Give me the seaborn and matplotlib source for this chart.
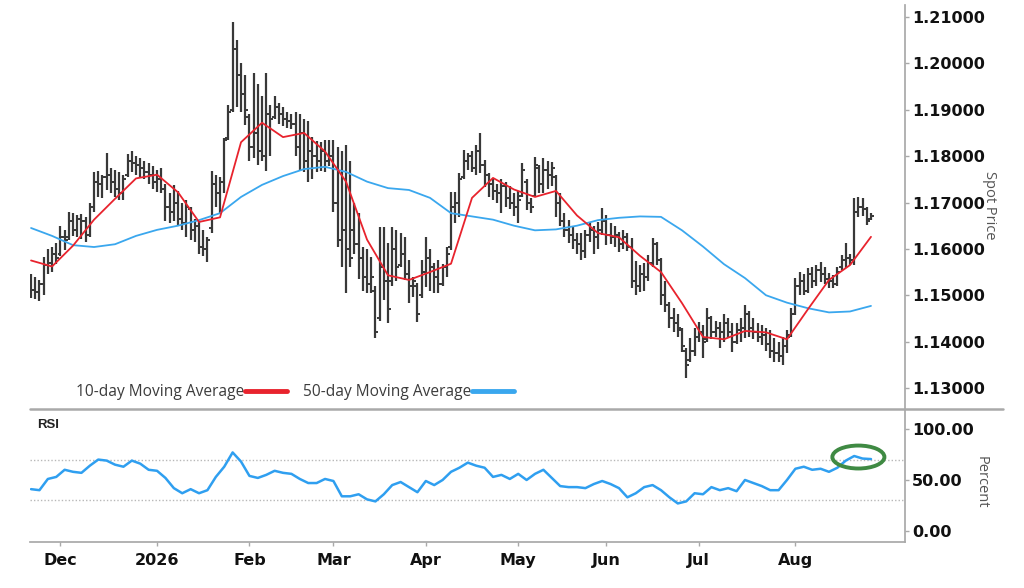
import numpy as np
import pandas as pd
import matplotlib
matplotlib.use("Agg")
import matplotlib.pyplot as plt
from matplotlib.lines import Line2D
from matplotlib.patches import Ellipse
import seaborn as sns

# Daily OHLC, in pips above 1.0000 (1545 -> 1.1545), first bar on 2025-11-20
opens = [1520, 1512, 1508, 1525, 1565, 1570, 1590, 1590, 1625, 1625,
         1660, 1640, 1665, 1660, 1630, 1690, 1745, 1740, 1755, 1760,
         1745, 1730, 1720, 1760, 1790, 1785, 1780, 1775, 1765, 1760,
         1745, 1750, 1730, 1690, 1680, 1700, 1665, 1655, 1685, 1640,
         1650, 1605, 1600, 1645, 1740, 1720, 1745, 1840, 1900, 2030,
         1975, 1935, 1885, 1820, 1850, 1810, 1800, 1890, 1885, 1905,
         1890, 1880, 1875, 1870, 1820, 1850, 1790, 1810, 1800, 1790,
         1810, 1790, 1800, 1700, 1620, 1640, 1600, 1640, 1610, 1580,
         1540, 1525, 1510, 1450, 1560, 1530, 1530, 1600, 1565, 1590,
         1545, 1520, 1520, 1500, 1550, 1580, 1560, 1540, 1525, 1560,
         1605, 1690, 1700, 1755, 1790, 1800, 1775, 1810, 1780, 1760,
         1740, 1725, 1720, 1735, 1710, 1700, 1690, 1715, 1745, 1700,
         1715, 1775, 1740, 1770, 1760, 1755, 1700, 1660, 1640, 1630,
         1620, 1610, 1595, 1630, 1640, 1625, 1640, 1660, 1630, 1625,
         1630, 1610, 1625, 1605, 1530, 1520, 1545, 1540, 1570, 1610,
         1575, 1500, 1480, 1450, 1440, 1425, 1380, 1360, 1380, 1410,
         1420, 1405, 1450, 1420, 1430, 1420, 1440, 1420, 1400, 1425,
         1430, 1460, 1430, 1420, 1410, 1415, 1395, 1380, 1375, 1370,
         1390, 1415, 1460, 1520, 1530, 1510, 1545, 1530, 1555, 1545,
         1535, 1530, 1525, 1560, 1575, 1580, 1575, 1680, 1690, 1685,
         1665]
highs = [1545, 1540, 1532, 1582, 1600, 1605, 1612, 1650, 1640, 1680,
         1678, 1672, 1675, 1668, 1700, 1765, 1768, 1760, 1807, 1775,
         1770, 1765, 1760, 1805, 1810, 1800, 1795, 1790, 1785, 1778,
         1770, 1775, 1740, 1720, 1738, 1725, 1700, 1705, 1690, 1665,
         1660, 1640, 1625, 1768, 1760, 1755, 1840, 1910, 2090, 2050,
         2000, 1975, 1890, 1980, 1955, 1930, 1980, 1910, 1930, 1915,
         1905, 1895, 1890, 1895, 1890, 1880, 1875, 1842, 1832, 1830,
         1835, 1835, 1835, 1820, 1810, 1825, 1790, 1700, 1678, 1605,
         1600, 1583, 1520, 1648, 1648, 1613, 1648, 1640, 1634, 1626,
         1576, 1540, 1526, 1575, 1626, 1600, 1570, 1575, 1568, 1604,
         1723, 1723, 1764, 1813, 1807, 1810, 1824, 1850, 1792, 1764,
         1750, 1740, 1750, 1745, 1735, 1720, 1725, 1785, 1750, 1710,
         1798, 1780, 1796, 1790, 1787, 1760, 1720, 1678, 1662, 1650,
         1634, 1634, 1640, 1658, 1650, 1658, 1688, 1673, 1655, 1650,
         1636, 1640, 1635, 1623, 1573, 1565, 1570, 1587, 1623, 1615,
         1580, 1530, 1486, 1473, 1460, 1430, 1386, 1408, 1430, 1442,
         1436, 1473, 1455, 1445, 1442, 1460, 1451, 1440, 1440, 1450,
         1479, 1465, 1450, 1440, 1436, 1430, 1425, 1408, 1400, 1410,
         1425, 1473, 1537, 1550, 1545, 1558, 1560, 1565, 1572, 1560,
         1548, 1544, 1560, 1587, 1613, 1590, 1710, 1712, 1710, 1690,
         1677]
lows = [1494, 1492, 1488, 1500, 1545, 1550, 1568, 1585, 1598, 1620,
        1628, 1625, 1622, 1615, 1625, 1680, 1712, 1710, 1728, 1720,
        1712, 1705, 1705, 1755, 1765, 1760, 1755, 1750, 1740, 1730,
        1722, 1720, 1660, 1655, 1660, 1650, 1640, 1625, 1620, 1615,
        1590, 1585, 1572, 1635, 1690, 1675, 1720, 1835, 1895, 1905,
        1895, 1867, 1790, 1795, 1780, 1790, 1768, 1800, 1880, 1870,
        1865, 1860, 1858, 1800, 1770, 1765, 1745, 1750, 1765, 1768,
        1765, 1778, 1680, 1605, 1560, 1505, 1560, 1590, 1535, 1510,
        1505, 1505, 1408, 1445, 1490, 1440, 1520, 1530, 1560, 1533,
        1483, 1496, 1442, 1495, 1518, 1510, 1505, 1505, 1520, 1540,
        1598, 1656, 1669, 1750, 1770, 1765, 1760, 1764, 1733, 1712,
        1705, 1699, 1678, 1690, 1685, 1670, 1656, 1712, 1684, 1678,
        1712, 1720, 1720, 1730, 1735, 1669, 1650, 1626, 1613, 1600,
        1590, 1576, 1580, 1615, 1590, 1600, 1630, 1608, 1610, 1605,
        1594, 1600, 1595, 1516, 1500, 1507, 1510, 1530, 1560, 1565,
        1479, 1464, 1430, 1420, 1410, 1377, 1322, 1356, 1370, 1400,
        1365, 1400, 1405, 1410, 1386, 1400, 1408, 1378, 1395, 1400,
        1408, 1410, 1405, 1400, 1393, 1380, 1365, 1356, 1355, 1350,
        1375, 1410, 1457, 1500, 1500, 1505, 1516, 1520, 1529, 1525,
        1516, 1516, 1520, 1555, 1559, 1565, 1565, 1668, 1670, 1651,
        1662]
closes = [1512, 1508, 1525, 1565, 1570, 1590, 1580, 1625, 1620, 1660,
          1640, 1665, 1660, 1630, 1690, 1745, 1740, 1755, 1760, 1745,
          1730, 1720, 1750, 1790, 1785, 1780, 1775, 1765, 1760, 1745,
          1750, 1730, 1690, 1680, 1700, 1665, 1655, 1690, 1640, 1650,
          1605, 1600, 1620, 1740, 1720, 1745, 1835, 1895, 2030, 1975,
          1935, 1900, 1820, 1850, 1810, 1800, 1890, 1880, 1905, 1890,
          1880, 1875, 1870, 1820, 1850, 1790, 1810, 1800, 1790, 1810,
          1790, 1800, 1700, 1620, 1640, 1600, 1580, 1610, 1580, 1540,
          1525, 1540, 1420, 1560, 1530, 1470, 1600, 1560, 1590, 1545,
          1520, 1530, 1460, 1550, 1580, 1560, 1540, 1525, 1560, 1590,
          1690, 1700, 1750, 1790, 1800, 1775, 1810, 1780, 1760, 1740,
          1725, 1720, 1735, 1710, 1700, 1690, 1705, 1770, 1700, 1690,
          1780, 1740, 1770, 1760, 1775, 1700, 1660, 1640, 1630, 1620,
          1610, 1595, 1630, 1640, 1625, 1640, 1660, 1630, 1625, 1630,
          1610, 1625, 1605, 1530, 1520, 1545, 1540, 1570, 1610, 1575,
          1500, 1480, 1450, 1440, 1430, 1390, 1350, 1380, 1410, 1420,
          1400, 1450, 1420, 1430, 1420, 1440, 1420, 1400, 1425, 1430,
          1460, 1430, 1420, 1410, 1415, 1395, 1380, 1375, 1370, 1390,
          1410, 1460, 1520, 1530, 1510, 1545, 1530, 1555, 1545, 1535,
          1530, 1525, 1550, 1575, 1580, 1575, 1680, 1690, 1685, 1660,
          1670]

# moving averages read every 5th bar (pips)
ma10_pips = [1575, 1562, 1607, 1663, 1708, 1752, 1760, 1722, 1658, 1668,
             1830, 1872, 1841, 1850, 1810, 1745, 1620, 1543, 1533, 1550,
             1568, 1710, 1753, 1728, 1712, 1725, 1672, 1634, 1625, 1585,
             1550, 1483, 1410, 1405, 1423, 1420, 1405, 1470, 1533, 1565,
             1626]
ma50_pips = [1645, 1628, 1608, 1604, 1610, 1628, 1641, 1650, 1662, 1677,
             1712, 1738, 1757, 1772, 1777, 1766, 1745, 1731, 1727, 1710,
             1677, 1670, 1663, 1650, 1640, 1642, 1650, 1662, 1667, 1670,
             1669, 1640, 1605, 1567, 1537, 1500, 1484, 1472, 1463, 1465,
             1477]
# RSI read every 2nd bar
rsi = [41, 40, 51, 53, 60, 58, 57, 64, 70, 69,
       65, 63, 69, 66, 60, 59, 52, 42, 37, 41,
       37, 40, 53, 63, 77, 68, 54, 52, 55, 59,
       57, 56, 51, 47, 47, 51, 49, 34, 34, 36,
       31, 29, 36, 45, 48, 43, 38, 49, 45, 50,
       58, 62, 67, 64, 62, 53, 55, 51, 56, 50,
       56, 60, 52, 44, 43, 43, 42, 46, 49, 46,
       42, 33, 37, 43, 45, 40, 33, 27, 29, 37,
       36, 43, 40, 42, 39, 50, 47, 44, 40, 40,
       50, 61, 63, 60, 61, 58, 62, 69, 73.5, 71,
       70.5]

start_date = "2025-11-20"
price_ticks = [1.13, 1.14, 1.15, 1.16, 1.17, 1.18, 1.19, 1.20, 1.21]
rsi_ticks = [0, 50, 100]
legend_labels = ["10-day Moving Average", "50-day Moving Average"]

RED = "#e8232d"
BLUE = "#3aa7ee"
BAR = "#383838"
GREY = "#a9a9a9"
TICK_FONT = ["DejaVu Sans"]
LABEL_FONT = ["Open Sans", "DejaVu Sans"]

sns.set_theme(style="white")
plt.rcParams["font.family"] = ["Liberation Sans", "DejaVu Sans"]

n = len(closes)
days = pd.bdate_range(start_date, periods=n)
bars = pd.DataFrame({
    "x": np.arange(n),
    "open": 1 + np.array(opens) / 1e4,
    "high": 1 + np.array(highs) / 1e4,
    "low": 1 + np.array(lows) / 1e4,
    "close": 1 + np.array(closes) / 1e4,
})
ma = pd.DataFrame({
    "x": np.arange(0, n, 5),
    "ma10": 1 + np.array(ma10_pips) / 1e4,
    "ma50": 1 + np.array(ma50_pips) / 1e4,
})
rsi_df = pd.DataFrame({"x": np.arange(0, n, 2), "rsi": rsi})

W, H = 1024, 588
fig = plt.figure(figsize=(W / 100, H / 100), dpi=100)
ax = fig.add_axes([30 / W, 1 - 409 / H, 875 / W, 404 / H])
ax_rsi = fig.add_axes([30 / W, 1 - 542 / H, 875 / W, 132 / H])

# price panel
ax.vlines(bars["x"], bars["low"], bars["high"], color=BAR, lw=1.6, zorder=2)
ax.hlines(bars["open"], bars["x"] - 0.7, bars["x"], color=BAR, lw=1.4, zorder=2)
ax.hlines(bars["close"], bars["x"], bars["x"] + 0.7, color=BAR, lw=1.4, zorder=2)
sns.lineplot(data=ma, x="x", y="ma50", color=BLUE, lw=1.3, ax=ax, zorder=3)
sns.lineplot(data=ma, x="x", y="ma10", color=RED, lw=1.3, ax=ax, zorder=4)

ax.set_xlim(-0.25, 208.1)
ax.set_ylim(1.12547, 1.21259)
ax.set_xticks([])
ax.set_xlabel("")
ax.set_ylabel("")
ax.yaxis.tick_right()
ax.set_yticks(price_ticks, labels=[f"{t:.5f}" for t in price_ticks],
              fontweight="bold", fontsize=11.5, color="#111111", family=TICK_FONT)
ax.tick_params(axis="y", length=3, width=1, color=GREY, pad=2)
for s in ["top", "left", "bottom"]:
    ax.spines[s].set_visible(False)
ax.spines["right"].set_color(GREY)

handles = [Line2D([], [], color=RED, lw=3.5, solid_capstyle="round"),
           Line2D([], [], color=BLUE, lw=3.5, solid_capstyle="round")]
ax.legend(handles, legend_labels, ncol=2, markerfirst=False, frameon=False,
          loc="center left", bbox_to_anchor=(0.053, 0.042), borderpad=0,
          borderaxespad=0, handlelength=2.7, handletextpad=0.05,
          columnspacing=1.0, labelcolor="#3c3c3c",
          prop={"family": LABEL_FONT, "size": 11.2})

# RSI panel
ax_rsi.axhline(70, color="#b8b8b8", lw=1, ls=(0, (1, 1.5)), zorder=1)
ax_rsi.axhline(30, color="#b8b8b8", lw=1, ls=(0, (1, 1.5)), zorder=1)
sns.lineplot(data=rsi_df, x="x", y="rsi", color="#2f9ff0", lw=1.8, ax=ax_rsi, zorder=3)
ax_rsi.add_patch(Ellipse((197, 72.5), width=12.4, height=22.5, fill=False,
                         edgecolor="#3f8a43", lw=2.8, zorder=4))
ax_rsi.set_xlim(-0.25, 208.1)
ax_rsi.set_ylim(-10.8, 118.6)
ax_rsi.set_xlabel("")
ax_rsi.set_ylabel("")
ax_rsi.yaxis.tick_right()
ax_rsi.set_yticks(rsi_ticks, labels=[f"{t:.2f}" for t in rsi_ticks],
                  fontweight="bold", fontsize=11.5, color="#111111", family=TICK_FONT)
ax_rsi.tick_params(axis="y", length=3, width=1, color=GREY, pad=2)

starts = [i for i in range(1, n) if days[i].month != days[i - 1].month]
month_labels = [str(days[i].year) if days[i].month == 1 else days[i].strftime("%b")
                for i in starts]
ax_rsi.set_xticks(starts, labels=month_labels, fontweight="bold",
                  fontsize=11.5, color="#111111", family=TICK_FONT)
ax_rsi.tick_params(axis="x", length=3, width=1, color=GREY, pad=5, bottom=True)
for s in ["top", "left"]:
    ax_rsi.spines[s].set_visible(False)
for s in ["right", "bottom"]:
    ax_rsi.spines[s].set_color(GREY)
ax_rsi.text(0.008, 0.93, "RSI", transform=ax_rsi.transAxes, fontweight="bold",
            fontsize=9.5, va="top", ha="left", color="#222222")

# divider between panels, runs past the axis like the original
fig.add_artist(Line2D([30 / W, 1003 / W], [1 - 409 / H] * 2,
                      transform=fig.transFigure, color=GREY, lw=1.8))

fig.text(990 / W, 1 - 205 / H, "Spot Price", rotation=270, ha="center",
         va="center", fontsize=10.5, color="#555555", family=LABEL_FONT)
fig.text(981 / W, 1 - 482 / H, "Percent", rotation=270, ha="center",
         va="center", fontsize=10.5, color="#555555", family=LABEL_FONT)

fig.savefig("out.png", dpi=100)
